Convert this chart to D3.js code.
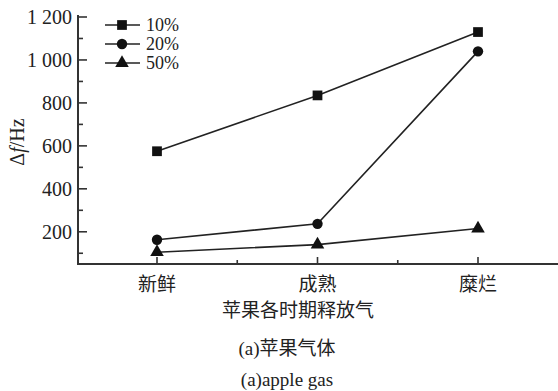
<!DOCTYPE html>
<html><head><meta charset="utf-8">
<script src="https://cdn.jsdelivr.net/npm/d3@7"></script>
<style>body{margin:0;background:#fff;}svg{display:block;}</style>
</head><body>
<svg id="c" width="558" height="391"></svg>
<script>
const categories = ["新鲜", "成熟", "糜烂"];
const seriesNames = ["10%", "20%", "50%"];
const values10 = [575, 835, 1130];
const values20 = [163, 237, 1040];
const values50 = [105, 140, 215];
const yTicks = [200, 400, 600, 800, 1000, 1200];
const yTickLabels = ["200", "400", "600", "800", "1 000", "1 200"];
const xTitle = "苹果各时期释放气";
const caption1 = ["(a)", "苹果气体"];
const caption2 = "(a)apple gas";

const svg = d3.select("#c");
const serif = "'Liberation Serif','Times New Roman',serif";
const cjk = "'Noto Sans CJK SC',sans-serif";
const L = 78, R = 558, T = 15, B = 264;
const xs = d3.scaleLinear().domain([0, 2]).range([157, 478]);
const y = d3.scaleLinear().domain([50, 1200]).range([B, 17]);

const g = svg.append("g");
g.append("line").attr("x1", L).attr("x2", L).attr("y1", T).attr("y2", B + 1).attr("stroke", "#333").attr("stroke-width", 2);
g.append("line").attr("x1", L - 1).attr("x2", R).attr("y1", B).attr("y2", B).attr("stroke", "#333").attr("stroke-width", 2);
d3.range(100, 1201, 100).forEach(v => {
  const major = v % 200 === 0;
  g.append("line").attr("x1", L).attr("x2", L + (major ? 9 : 5)).attr("y1", y(v)).attr("y2", y(v)).attr("stroke", "#333").attr("stroke-width", 1.6);
});
yTicks.forEach((v, i) => {
  g.append("text").attr("x", L - 6).attr("y", y(v)).attr("dy", "0.35em").attr("text-anchor", "end")
    .attr("font-family", serif).attr("font-size", 20).attr("fill", "#222").text(yTickLabels[i]);
});
[0, 0.5, 1, 1.5, 2].forEach(v => {
  const major = Number.isInteger(v);
  g.append("line").attr("x1", xs(v)).attr("x2", xs(v)).attr("y1", B).attr("y2", B - (major ? 7 : 4)).attr("stroke", "#333").attr("stroke-width", 1.6);
});
categories.forEach((c, i) => {
  g.append("text").attr("x", xs(i)).attr("y", B + 27).attr("text-anchor", "middle")
    .attr("font-family", cjk).attr("font-size", 19).attr("fill", "#222").text(c);
});
g.append("text").attr("x", 298).attr("y", 317).attr("text-anchor", "middle")
  .attr("font-family", cjk).attr("font-size", 19).attr("fill", "#222").text(xTitle);
const yt = g.append("text").attr("transform", "translate(24,142) rotate(-90)").attr("text-anchor", "middle")
  .attr("font-family", serif).attr("font-size", 20).attr("fill", "#222");
yt.append("tspan").text("Δ");
yt.append("tspan").attr("font-style", "italic").text("f");
yt.append("tspan").text("/Hz");
g.append("text").attr("x", 287).attr("y", 355).attr("text-anchor", "middle")
  .attr("font-size", 19).attr("fill", "#222")
  .selectAll("tspan").data([[caption1[0], serif], [caption1[1], cjk]]).join("tspan")
  .attr("font-family", d => d[1]).text(d => d[0]);
g.append("text").attr("x", 287).attr("y", 386).attr("text-anchor", "middle")
  .attr("font-family", serif).attr("font-size", 19).attr("fill", "#222").text(caption2);

const series = [values10, values20, values50];
const symbols = [d3.symbolSquare, d3.symbolCircle, d3.symbolTriangle];
const sizes = [95, 85, 80];
const line = d3.line().x((d, i) => xs(i)).y(d => y(d));
series.forEach((vals, si) => {
  g.append("path").attr("d", line(vals)).attr("fill", "none").attr("stroke", "#222").attr("stroke-width", 1.6);
  vals.forEach((v, i) => {
    g.append("path").attr("d", d3.symbol().type(symbols[si]).size(sizes[si])())
      .attr("transform", `translate(${xs(i)},${y(v)})`).attr("fill", "#111");
  });
});
seriesNames.forEach((n, si) => {
  const ly = 25 + si * 19;
  g.append("line").attr("x1", 105).attr("x2", 140).attr("y1", ly).attr("y2", ly).attr("stroke", "#222").attr("stroke-width", 1.6);
  g.append("path").attr("d", d3.symbol().type(symbols[si]).size(sizes[si])())
    .attr("transform", `translate(122,${ly})`).attr("fill", "#111");
  g.append("text").attr("x", 146).attr("y", ly).attr("dy", "0.35em")
    .attr("font-family", serif).attr("font-size", 18).attr("fill", "#222").text(n);
});
</script>
</body></html>
